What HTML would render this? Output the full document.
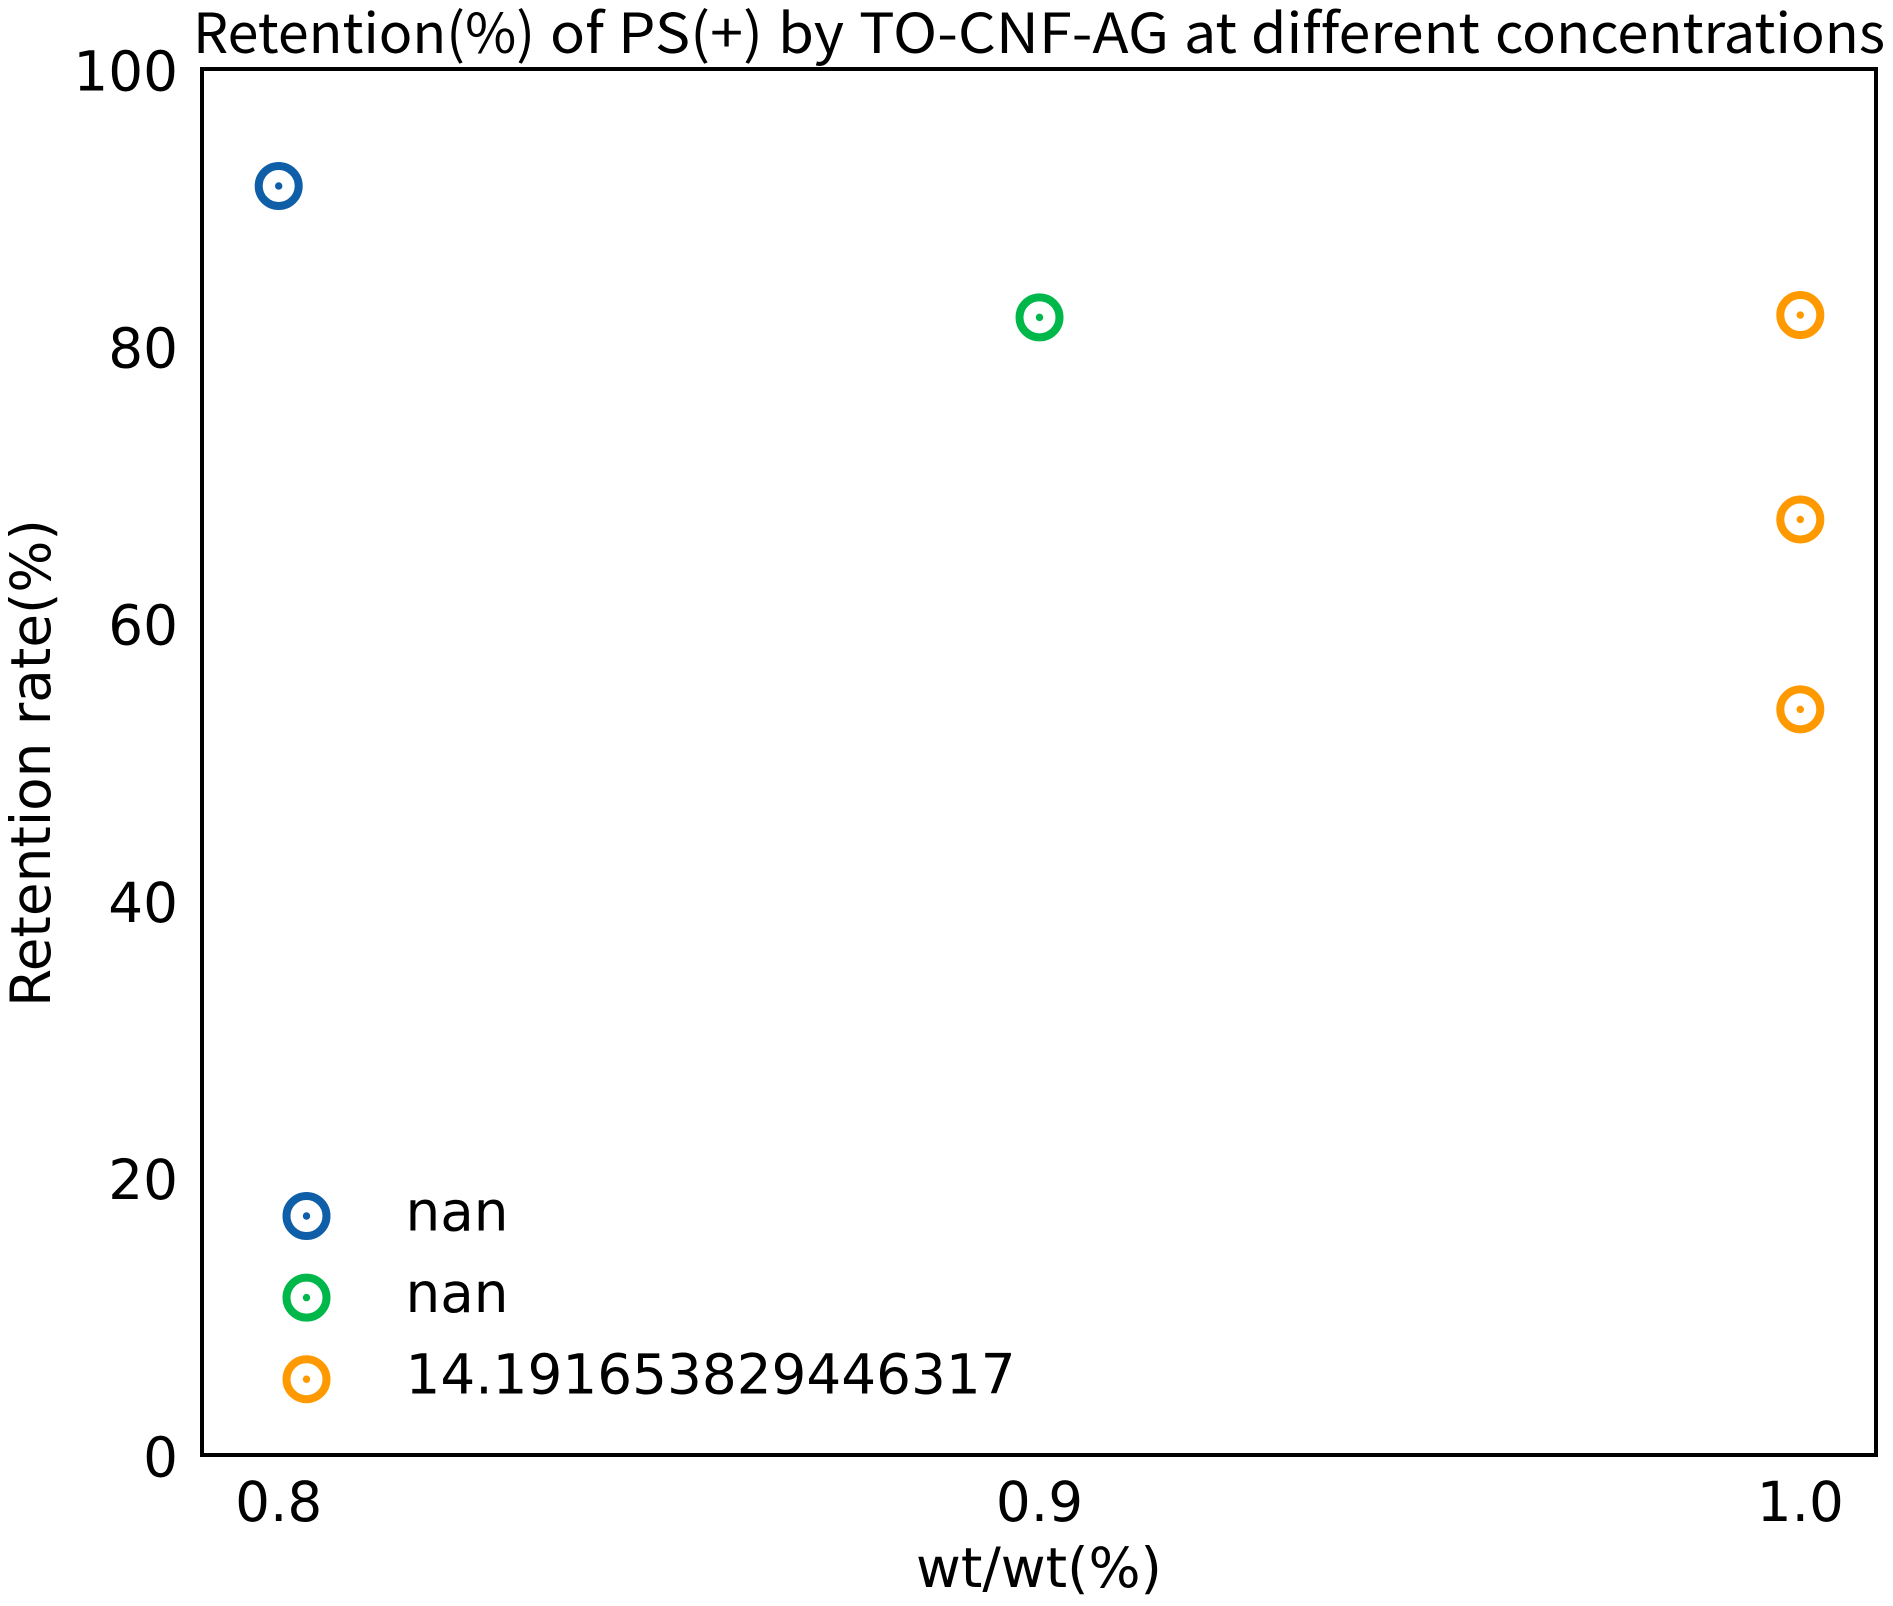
<!DOCTYPE html>
<html lang="en">
<head>
<meta charset="utf-8">
<title>Retention(%) of PS(+) by TO-CNF-AG at different concentrations</title>
<style>
html,body{margin:0;padding:0;background:#fff;}
svg{display:block;}
text{fill:#000;font-family:"DejaVu Sans",sans-serif;font-size:54.8px;}
#chart-title{font-family:"Noto Sans CJK SC","Liberation Sans",sans-serif;font-size:55px;font-variant-ligatures:none;}
</style>
</head>
<body>
<svg id="chart" xmlns="http://www.w3.org/2000/svg" width="1893" height="1606" viewBox="0 0 1893 1606">
  <text id="chart-title" y="53"><tspan x="193" textLength="342" lengthAdjust="spacingAndGlyphs">Retention(%)</tspan> <tspan x="550" textLength="54" lengthAdjust="spacingAndGlyphs">of</tspan> <tspan x="618" textLength="145" lengthAdjust="spacingAndGlyphs">PS(+)</tspan> <tspan x="778" textLength="66" lengthAdjust="spacingAndGlyphs">by</tspan> <tspan x="859" textLength="310" lengthAdjust="spacingAndGlyphs">TO-CNF-AG</tspan> <tspan x="1184" textLength="53" lengthAdjust="spacingAndGlyphs">at</tspan> <tspan x="1251" textLength="229" lengthAdjust="spacingAndGlyphs">different</tspan> <tspan x="1495" textLength="390" lengthAdjust="spacingAndGlyphs">concentrations</tspan></text>
  <rect x="202" y="69" width="1674" height="1386" fill="none" stroke="#000" stroke-width="4"/>
  <g id="y-ticks"></g>
  <g id="x-ticks"></g>
  <text transform="translate(50,763) rotate(-90)" text-anchor="middle">Retention rate(%)</text>
  <text x="1039" y="1587" text-anchor="middle">wt/wt(%)</text>
  <g id="points"></g>
  <g id="legend"></g>
</svg>
<script>
const xTicks = [0.8, 0.9, 1.0];
const yTicks = [0, 20, 40, 60, 80, 100];
const seriesColors = ['#0f5ea8', '#00b84a', '#ff9900'];
const seriesLabels = ['nan', 'nan', '14.191653829446317'];
const seriesX = [[0.8], [0.9], [1.0, 1.0, 1.0]];
const seriesY = [[91.56], [82.08], [82.25, 67.5, 53.8]];

const SVG_NS = 'http://www.w3.org/2000/svg';
function xScale(v) { return 278.7 + (v - 0.8) * 7608; }
function yScale(v) { return 1455 - v * 13.86; }
function make(tag, parent, attrs) {
  const el = document.createElementNS(SVG_NS, tag);
  Object.keys(attrs).forEach(function (k) { el.setAttribute(k, attrs[k]); });
  parent.appendChild(el);
  return el;
}

const yGroup = document.getElementById('y-ticks');
yTicks.forEach(function (t) {
  const el = make('text', yGroup, { x: 178, y: yScale(t) + 21.3, 'text-anchor': 'end' });
  
  
  el.textContent = String(t);
});

const xGroup = document.getElementById('x-ticks');
xTicks.forEach(function (t) {
  const el = make('text', xGroup, { x: xScale(t), y: 1521, 'text-anchor': 'middle' });
  
  
  el.textContent = t.toFixed(1);
});

const pointGroup = document.getElementById('points');
seriesX.forEach(function (xs, s) {
  xs.forEach(function (xv, i) {
    const cx = xScale(xv);
    const cy = yScale(seriesY[s][i]);
    const ring = make('circle', pointGroup, { cx: cx, cy: cy, r: 20, fill: 'none', stroke: seriesColors[s], 'stroke-width': 8 });
    
    
    const dot = make('circle', pointGroup, { cx: cx, cy: cy, r: 3.7, fill: seriesColors[s] });
    
    
  });
});

const legendGroup = document.getElementById('legend');
seriesLabels.forEach(function (label, s) {
  const cy = 1216 + s * 81.6;
  const ring = make('circle', legendGroup, { cx: 306.5, cy: cy, r: 20, fill: 'none', stroke: seriesColors[s], 'stroke-width': 8 });
  
  
  const dot = make('circle', legendGroup, { cx: 306.5, cy: cy, r: 3.7, fill: seriesColors[s] });
  
  
  const text = make('text', legendGroup, { x: 405.5, y: cy + 14.5 });
  
  
  text.textContent = label;
});
</script>
</body>
</html>
